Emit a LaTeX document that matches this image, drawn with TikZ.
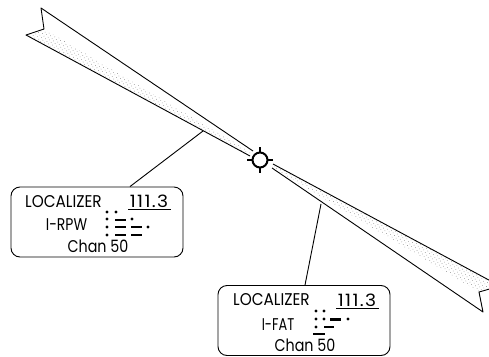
\documentclass[tikz,border=0pt]{standalone}
\usepackage{fontspec}
\setmainfont{Poppins}
\usetikzlibrary{patterns.meta}
\tikzset{
  edgeline/.style={line width=0.9pt,line join=round},
  stipple/.style={pattern={Dots[radius=0.35pt,distance=3pt,angle=30]},pattern color=black!65},
  infobox/.style={draw,line width=0.9pt,rounded corners=9pt,minimum width=172pt,minimum height=70pt,inner sep=0pt},
  boxtext/.style={font=\fontsize{17}{20}\selectfont\addfontfeature{FakeStretch=#1},inner sep=0pt,anchor=center},
  boxtext/.default=0.9,
  morsedot/.style={fill=black,draw=none},
  morsedash/.style={line width=2.4pt}
}
\begin{document}
\begin{tikzpicture}[line cap=butt,x=1pt,y=-1pt]
\useasboundingbox (0,0) rectangle (489,356);
% upper left feather
\fill[stipple] (44,29) -- (26,35) -- (250,156) -- (252,153) -- cycle;
\draw[edgeline] (250,156) -- (26,35) -- (44,29) -- (41,8) -- (253,151);
% lower right feather
\fill[stipple] (273,164) -- (500,286) -- (479,292) -- (272,167) -- cycle;
\draw[edgeline] (273,164) -- (500,286) -- (479,292) -- (483,312) -- (272,168);
% beacon
\node[circle,draw,line width=2pt,minimum size=15pt,inner sep=0pt] (beacon) at (260,160) {};
\foreach \a in {0,90,180,270}
\draw[line width=2pt,shift={(260,160)}] (\a:7.5pt) -- (\a:13pt);
% boxes
\node[infobox] (boxrpw) at (97,222) {};
\node[infobox] (boxfat) at (304,320.5) {};
\coordinate (joinrpw) at (203,131);
\coordinate (joinfat) at (321,204);
\draw[edgeline] (joinrpw) -- ([xshift=33pt]boxrpw.north);
\draw[edgeline] (joinfat) -- ([xshift=1pt]boxfat.north);
% left box text
\node[boxtext] (locrpw) at (63.5,201.5) {LOCALIZER};
\node[boxtext=1.1] (freqrpw) at (149,201) {\addfontfeature{LetterSpace=8}111.3};
\draw[line width=0.8pt] (128,209) -- (171,209);
\node[boxtext=0.82] (idrpw) at (66.5,225) {I-RPW};
\node[boxtext=0.84] (chanrpw) at (98,246) {Chan 50};
\foreach \x/\y in {107/212,116/212,107/219,132/219,107/227,148/227,107/235}
\fill[morsedot] (\x,\y) circle (1.6pt);
\foreach \x/\y in {115/220,115/227,131/227,115/235,131/235}
\draw[morsedash] (\x,\y) -- ++(11,0);
% right box text
\node[boxtext] (locfat) at (271.5,300) {LOCALIZER};
\node[boxtext=1.1] (freqfat) at (357,300) {\addfontfeature{LetterSpace=8}111.3};
\draw[line width=0.8pt] (336,308) -- (379,308);
\node[boxtext=0.76] (idfat) at (278,325) {I-FAT};
\node[boxtext=0.84] (chanfat) at (305,345.5) {Chan 50};
\foreach \x/\y in {316/311,324/311,316/319,324/319,348/319,316/327}
\fill[morsedot] (\x,\y) circle (1.6pt);
\foreach \x/\y/\l in {330/319.5/11,324/327/10,313/334/12}
\draw[morsedash] (\x,\y) -- ++(\l,0);
\end{tikzpicture}
\end{document}
